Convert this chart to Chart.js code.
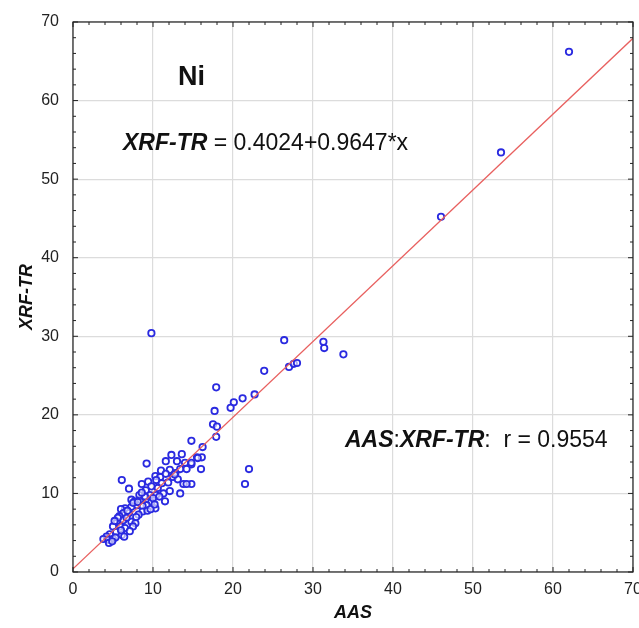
<!DOCTYPE html>
<html>
<head>
<meta charset="utf-8">
<script src="https://cdn.jsdelivr.net/npm/chart.js@4"></script>
<style>
  body { margin: 0; background: #fff; }
  #wrap { width: 639px; height: 628px; position: relative; }
</style>
</head>
<body>
<div id="wrap"><canvas id="niChart" width="639" height="628"></canvas></div>
<script>
// AAS (x) vs XRF-TR (y), Ni
var aas = [62.0, 53.5, 46.0, 9.8, 26.4, 31.3, 31.4, 33.8, 23.9, 27.0, 27.6, 28.0,
  17.9, 20.1, 19.7, 21.2, 22.7, 17.7, 17.5, 18.0, 17.9, 14.8, 16.2, 15.5, 16.1,
  14.8, 16.0, 14.8, 22.0, 21.5, 9.2, 6.1, 7.0, 8.6, 9.4, 11.6, 12.3, 13.6, 13.0,
  14.0, 14.8, 15.6, 12.1, 13.4, 14.2, 12.5, 13.1, 13.8, 14.2, 12.1, 13.4, 10.3,
  10.9, 10.4, 11.1, 9.8, 10.6, 11.9, 11.3, 10.4, 9.6, 9.8, 10.3, 9.2, 8.4, 7.3,
  8.0, 8.7, 8.7, 8.2, 9.3, 7.3, 6.5, 6.0, 7.0, 6.3, 5.8, 6.3, 7.3, 7.8, 7.5, 5.5,
  5.0, 5.9, 6.5, 5.4, 6.1, 6.4, 4.6, 4.2, 3.8, 4.4, 5.0, 4.5, 5.6, 11.0, 12.8,
  8.9, 7.7, 10.0, 11.6, 12.7, 7.5, 8.3, 9.0, 6.8, 5.2, 6.7, 8.1, 9.7, 7.9, 6.0,
  5.3, 7.1, 10.8, 11.5, 9.1, 4.9, 8.6, 10.2];
var xrf = [66.2, 53.4, 45.2, 30.4, 29.5, 29.3, 28.5, 27.7, 25.6, 26.1, 26.5, 26.6,
  23.5, 21.6, 20.9, 22.1, 22.6, 20.5, 18.8, 18.5, 17.2, 16.7, 15.9, 14.6, 14.6,
  13.7, 13.1, 11.2, 13.1, 11.2, 13.8, 11.7, 10.6, 11.2, 11.5, 14.1, 14.9, 15.0, 14.1,
  13.9, 13.9, 14.5, 13.0, 13.1, 13.1, 12.1, 11.8, 11.2, 11.2, 10.3, 10.0, 12.2,
  12.1, 11.7, 11.3, 10.9, 10.7, 11.4, 10.0, 9.8, 9.8, 8.9, 8.1, 8.5, 9.2, 9.2,
  8.5, 8.4, 7.7, 7.3, 7.8, 8.3, 8.1, 8.0, 7.5, 7.5, 7.1, 6.6, 6.4, 6.2, 5.8, 6.4,
  5.8, 5.8, 5.6, 5.1, 4.7, 4.5, 4.8, 4.5, 4.2, 4.1, 4.2, 3.7, 6.9, 12.9, 12.6,
  9.6, 9.0, 9.4, 12.5, 12.4, 8.8, 9.8, 9.6, 7.8, 6.5, 6.9, 8.9, 8.0, 7.0, 5.3,
  4.4, 5.2, 9.6, 9.0, 10.4, 3.9, 10.1, 8.6];
var intercept = 0.4024;
var slope = 0.9647;
var tickValues = [0, 10, 20, 30, 40, 50, 60, 70];

var points = aas.map(function (v, i) { return { x: v, y: xrf[i] }; });
var fitLine = [{ x: 0, y: intercept }, { x: 70, y: intercept + slope * 70 }];

var tickFont = { family: 'Liberation Sans Narrow, Arial Narrow, Liberation Sans, Arial', size: 16 };
var titleFont = { family: 'Liberation Sans, Arial', size: 18, weight: 'bold', style: 'italic' };

// frame, inward ticks (major + minor every 2) and text annotations
var decor = {
  id: 'decor',
  afterDraw: function (chart) {
    var c = chart.ctx, a = chart.chartArea;
    var xs = chart.scales.x, ys = chart.scales.y;
    c.save();
    c.strokeStyle = '#222';
    c.lineWidth = 1.2;
    c.strokeRect(a.left, a.top, a.right - a.left, a.bottom - a.top);
    c.lineWidth = 1;
    for (var v = 0; v <= 70; v += 2) {
      var len = (v % 10 === 0) ? 5 : 3;
      var px = xs.getPixelForValue(v), py = ys.getPixelForValue(v);
      c.beginPath();
      c.moveTo(px, a.bottom); c.lineTo(px, a.bottom - len);
      c.moveTo(px, a.top); c.lineTo(px, a.top + len);
      c.moveTo(a.left, py); c.lineTo(a.left + len, py);
      c.moveTo(a.right, py); c.lineTo(a.right - len, py);
      c.stroke();
    }
    c.fillStyle = '#111';
    c.textBaseline = 'alphabetic';
    c.font = 'bold 27px Liberation Sans, Arial';
    c.fillText('Ni', 178, 85);

    var x0 = 123, y0 = 150;
    c.font = 'italic bold 23px Liberation Sans, Arial';
    c.fillText('XRF-TR', x0, y0);
    x0 += c.measureText('XRF-TR').width;
    c.font = '23px Liberation Sans, Arial';
    c.fillText(' = 0.4024+0.9647*x', x0, y0);

    x0 = 345; y0 = 447;
    c.font = 'italic bold 23px Liberation Sans, Arial';
    c.fillText('AAS', x0, y0);
    x0 += c.measureText('AAS').width;
    c.font = '23px Liberation Sans, Arial';
    c.fillText(':', x0, y0);
    x0 += c.measureText(':').width;
    c.font = 'italic bold 23px Liberation Sans, Arial';
    c.fillText('XRF-TR', x0, y0);
    x0 += c.measureText('XRF-TR').width;
    c.font = '23px Liberation Sans, Arial';
    c.fillText(':  r = 0.9554', x0, y0);
    c.restore();
  }
};

var ctx = document.getElementById('niChart').getContext('2d');
var chart = new Chart(ctx, {
  type: 'scatter',
  data: {
    datasets: [{
      label: 'fit',
      type: 'line',
      data: fitLine,
      borderColor: '#e8605f',
      borderWidth: 1.3,
      pointRadius: 0,
      fill: false
    }, {
      label: 'Ni',
      data: points,
      pointStyle: 'circle',
      pointRadius: 3.2,
      borderColor: '#2a2ae0',
      borderWidth: 1.8,
      backgroundColor: 'rgba(255,255,255,0.6)'
    }]
  },
  options: {
    responsive: false,
    animation: false,
    layout: { padding: { top: 22, right: 6, left: 0, bottom: 0 } },
    plugins: { legend: { display: false }, tooltip: { enabled: false } },
    scales: {
      x: {
        type: 'linear', min: 0, max: 70,
        afterBuildTicks: function (s) { s.ticks = tickValues.map(function (v) { return { value: v }; }); },
        afterFit: function (s) { s.height = 56; s.paddingRight = 0; s.paddingLeft = 0; },
        grid: { color: '#dcdcdc', lineWidth: 1.2, drawTicks: false },
        border: { display: false },
        ticks: { color: '#222', font: tickFont, padding: 8 },
        title: { display: true, text: 'AAS', color: '#111', font: titleFont, padding: { top: 4 } }
      },
      y: {
        type: 'linear', min: 0, max: 70,
        afterBuildTicks: function (s) { s.ticks = tickValues.map(function (v) { return { value: v }; }); },
        afterFit: function (s) { s.width = 73; s.paddingTop = 0; s.paddingBottom = 0; },
        grid: { color: '#dcdcdc', lineWidth: 1.2, drawTicks: false },
        border: { display: false },
        ticks: { color: '#222', font: tickFont, padding: 14 },
        title: { display: true, text: 'XRF-TR', color: '#111', font: titleFont, padding: { top: 16, bottom: 0 } }
      }
    }
  },
  plugins: [decor]
});
</script>
</body>
</html>
